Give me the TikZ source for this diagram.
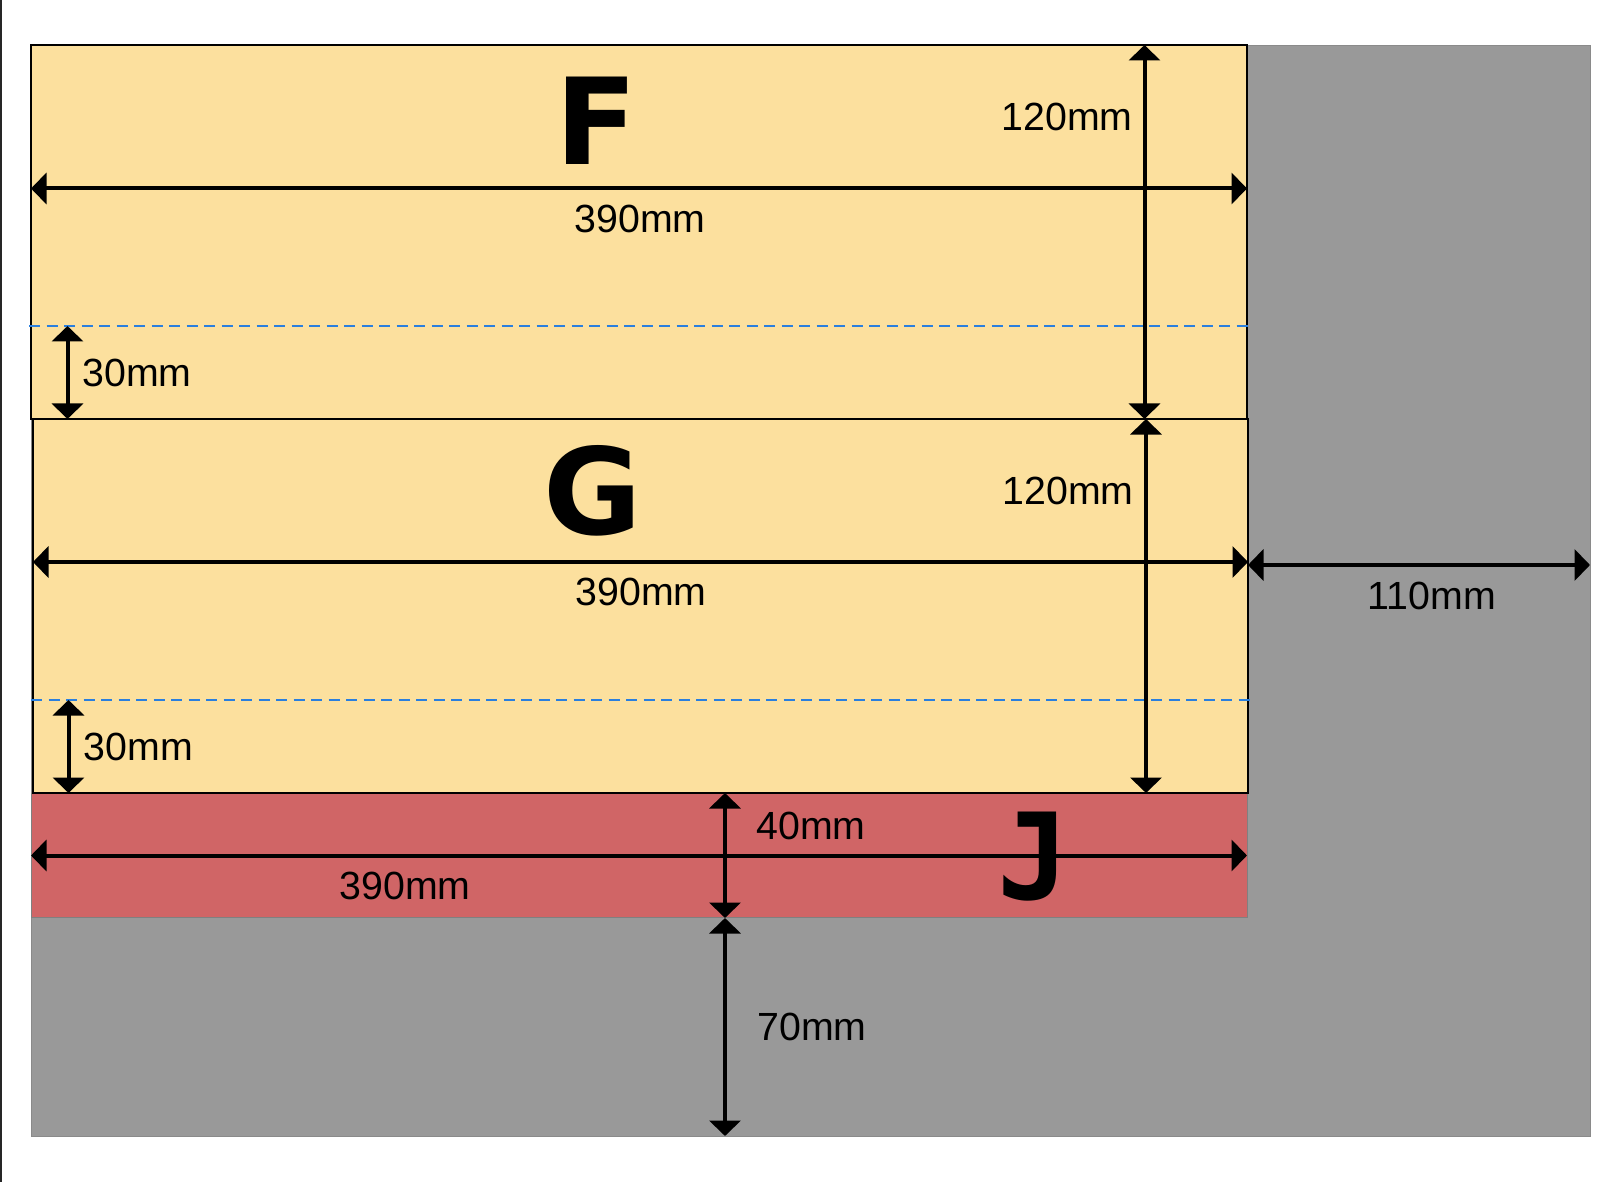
\documentclass[tikz,border=0pt]{standalone}
\usepackage{fontspec}
\setmainfont{Liberation Sans}
\newfontfamily\lettersfont{DejaVu Sans}
\newfontfamily\hookfont{DejaVu Sans Mono}
\usetikzlibrary{arrows.meta,positioning,calc}
\definecolor{panelyellow}{HTML}{FCE09E}
\definecolor{panelred}{HTML}{D06566}
\definecolor{wallgray}{HTML}{999999}
\definecolor{cutblue}{HTML}{2A7FDE}
\tikzset{
  panel/.style={draw=black, line width=2pt, fill=panelyellow, anchor=north west, inner sep=0pt, outer sep=0pt,
                minimum width=1215pt, minimum height=374pt},
  dimline/.style={{Triangle[length=15.5pt,width=31pt]}-{Triangle[length=15.5pt,width=31pt]}, line width=4pt, draw=black},
  cutline/.style={draw=cutblue, line width=1.8pt, dash pattern=on 11pt off 6.5pt},
  dimtext/.style={inner sep=0pt, font=\fontsize{39.3}{39.3}\selectfont},
  letter/.style={inner sep=0pt, font=\fontsize{120}{120}\selectfont\lettersfont\bfseries}
}
\begin{document}
\begin{tikzpicture}[x=1pt, y=-1pt]
\useasboundingbox (0,0) rectangle (1618,1182);

% Background wall and left edge
\node[fill=wallgray, draw=wallgray!90!black, line width=0.6pt, anchor=north west, inner sep=0pt, outer sep=0pt,
      minimum width=1559pt, minimum height=1091pt] (wall) at (31,45) {};
\coordinate (edgetop) at (1,0);
\coordinate (edgebottom) at (1,1182);
\draw[line width=2.5pt, draw=black!85] (edgetop) -- (edgebottom);

% Panels
\node[fill=panelred, draw=black!50, line width=0.6pt, anchor=north west, inner sep=0pt, outer sep=0pt,
      minimum width=1216pt, minimum height=124pt] (jbox) at (31,793) {};
\node[panel, minimum width=1216pt] (fbox) at (31,45) {};
\node[panel] (gbox) at (33,419) {};

% Cut lines
\coordinate (fcutl) at (29,326);
\coordinate (fcutr) at (1248,326);
\coordinate (gcutl) at (31,700);
\coordinate (gcutr) at (1250,700);
\draw[cutline] (fcutl) -- (fcutr);
\draw[cutline] (gcutl) -- (gcutr);

% Letters
\node[letter] (flabel) at (596,121) {F};
\node[letter] (glabel) at (593,491) {G};
\node[letter, font=\fontsize{120}{120}\selectfont\hookfont\bfseries] (jlabel) at (1034,856.5) {J};

% Arrow ends
\coordinate (fwl) at (31,188.5);
\coordinate (fwr) at (1247,188.5);
\coordinate (gwl) at (33,562);
\coordinate (gwr) at (1248,562);
\coordinate (jwl) at (31,855.5);
\coordinate (jwr) at (1247,855.5);
\coordinate (fht) at (1144.5,45);
\coordinate (fhb) at (1144.5,419);
\coordinate (ght) at (1146,419);
\coordinate (ghb) at (1146,793);
\coordinate (fcutt) at (67.5,326);
\coordinate (fcutb) at (67.5,419);
\coordinate (gcutt) at (68.5,700);
\coordinate (gcutb) at (68.5,793);
\coordinate (sidel) at (1248,565);
\coordinate (sider) at (1590,565);
\coordinate (jht) at (725,793);
\coordinate (jhb) at (725,918);
\coordinate (lowt) at (725,918);
\coordinate (lowb) at (725,1136);

% Dimensions
\draw[dimline] (fwl) -- (fwr);
\draw[dimline] (gwl) -- (gwr);
\draw[dimline] (jwl) -- (jwr);
\draw[dimline] (fht) -- (fhb);
\draw[dimline] (ght) -- (ghb);
\draw[dimline] (fcutt) -- (fcutb);
\draw[dimline] (gcutt) -- (gcutb);
\draw[dimline] (sidel) -- (sider);
\draw[dimline] (jht) -- (jhb);
\draw[dimline] (lowt) -- (lowb);

% Dimension labels
\node[dimtext] (fwidth) at (640,218.7) {390mm};
\node[dimtext] (fheight) at (1067,116.8) {120mm};
\node[dimtext] (fcut) at (137,372.8) {30mm};
\node[dimtext] (gwidth) at (641,591.8) {390mm};
\node[dimtext] (gheight) at (1068,490.5) {120mm};
\node[dimtext] (gcut) at (138.5,746.7) {30mm};
\node[dimtext] (side) at (1432,595.8) {110mm};
\node[dimtext] (jheight) at (811,825.8) {40mm};
\node[dimtext] (jwidth) at (405,885.8) {390mm};
\node[dimtext] (low) at (812,1027.2) {70mm};

\end{tikzpicture}
\end{document}
